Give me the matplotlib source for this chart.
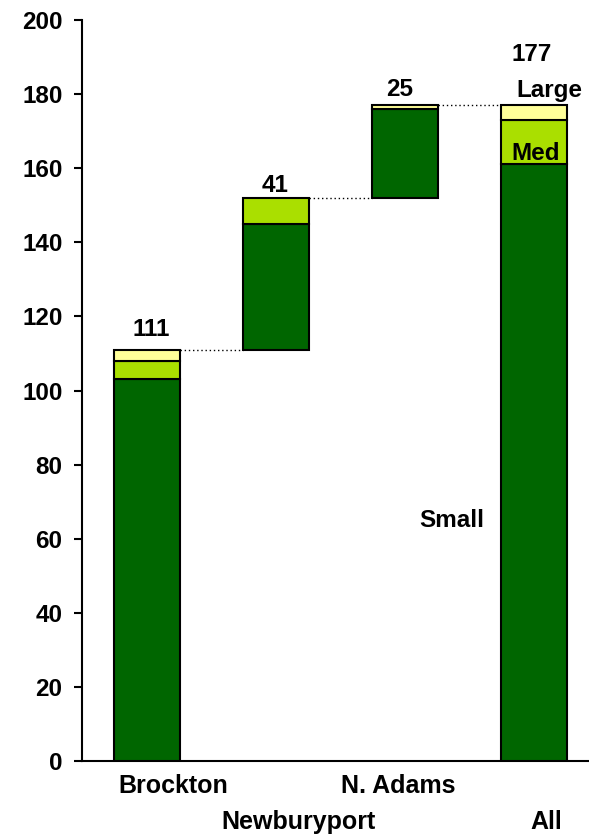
import matplotlib
matplotlib.use("Agg")
import matplotlib.pyplot as plt

plt.rcParams['font.family'] = ['Liberation Sans', 'DejaVu Sans']
plt.rcParams['font.weight'] = 'bold'

categories = ["Brockton", "Newburyport", "N. Adams", "All"]
small = [103, 34, 24, 161]
med = [5, 7, 0, 12]
large = [3, 0, 1, 4]
bases = [0, 111, 152, 0]
totals = [111, 41, 25, 177]

c_small = "#006600"
c_med = "#AADF00"
c_large = "#FFFF99"
FS = 17.5

fig = plt.figure(figsize=(5.89, 8.34), dpi=100)
ax = fig.add_axes([82/589, 1 - 761/834, 1 - 82/589, (761 - 20)/834])

x = list(range(len(categories)))
w = 0.51
for i in x:
    b = bases[i]
    for val, col in ((small[i], c_small), (med[i], c_med), (large[i], c_large)):
        if val > 0:
            ax.bar(i, val, bottom=b, width=w, color=col, edgecolor="black",
                   linewidth=1.5, zorder=3)
        b += val

# connector lines between consecutive bar tops
levels = [bases[i] + totals[i] for i in range(3)]
for i, lvl in enumerate(levels):
    ax.plot([i + w/2, i + 1 - w/2], [lvl, lvl], color="black", linestyle=(0, (1, 2)),
            linewidth=1.0, zorder=2)

# value labels above bars (baseline positions)
label_x = [0.03, -0.01, -0.04, -0.02]
label_y = [114.7, 153.6, 179.5, 188.8]
for i in x:
    ax.text(i + label_x[i], label_y[i], str(totals[i]), ha="center", va="baseline",
            fontsize=FS, fontweight="bold")

ax.text(3.12, 179.2, "Large", ha="center", va="baseline", fontsize=FS, fontweight="bold")
ax.text(3.01, 162.2, "Med", ha="center", va="baseline", fontsize=FS, fontweight="bold", zorder=4)
ax.text(2.36, 63.2, "Small", ha="center", va="baseline", fontsize=FS, fontweight="bold")

ax.set_xlim(-0.504, 3.426)
ax.set_ylim(0, 200)
ax.set_yticks(range(0, 201, 20))
ax.tick_params(axis="y", direction="out", length=6, width=1.5, labelsize=FS, pad=8)
for lab in ax.get_yticklabels():
    lab.set_fontweight("bold")
ax.set_xticks([])

# staggered category labels, shifted slightly off the bar centres
name_shift = [0.205, 0.178, -0.054, 0.098]
for i, name in enumerate(categories):
    off = -23.3 if i % 2 == 0 else -49
    ax.annotate(name, xy=(i + name_shift[i], 0), xycoords=("data", "axes fraction"),
                xytext=(0, off), textcoords="offset points",
                ha="center", va="baseline", fontsize=FS + 0.5, fontweight="bold")

for s in ("top", "right"):
    ax.spines[s].set_visible(False)
ax.spines["left"].set_linewidth(1.5)
ax.spines["bottom"].set_linewidth(1.5)

fig.savefig("out.png", dpi=100)
